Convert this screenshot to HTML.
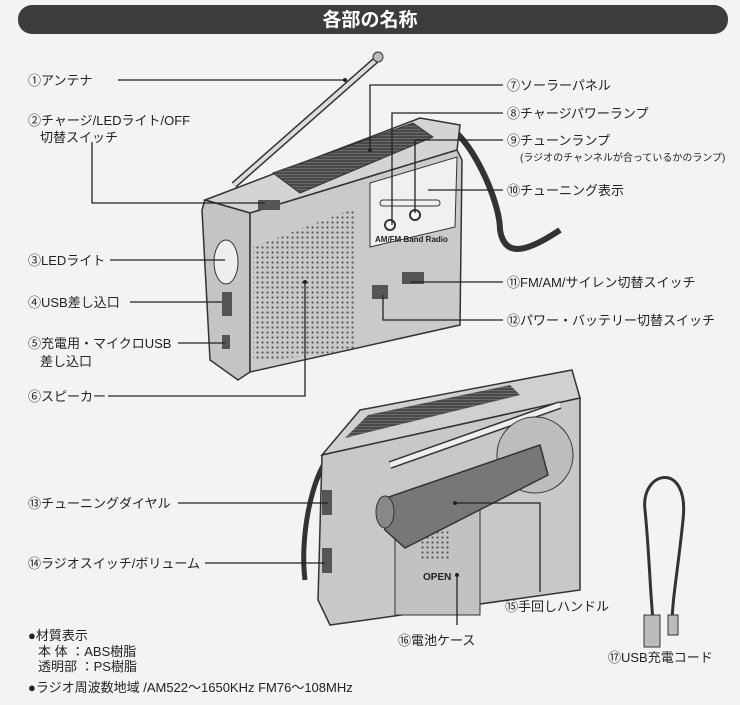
<!DOCTYPE html>
<html><head><meta charset="utf-8"><style>
html,body{margin:0;padding:0;background:#f3f3f1;}
svg{display:block}
text{font-family:"Liberation Sans","Noto Sans CJK JP",sans-serif;fill:#222;font-size:13px}
</style></head><body>
<svg width="740" height="705" viewBox="0 0 740 705" xmlns="http://www.w3.org/2000/svg">
<defs>
<pattern id="dots" width="5" height="5" patternUnits="userSpaceOnUse"><circle cx="2.5" cy="2.5" r="1.1" fill="#555"/></pattern>
<pattern id="sol" width="6" height="3" patternUnits="userSpaceOnUse"><rect width="6" height="3" fill="#4a4a4a"/><rect width="6" height="1" fill="#6a6a6a"/></pattern>
</defs>
<rect x="18" y="5" width="710" height="29" rx="14" fill="#3c3c3c"/>
<text x="370" y="26" text-anchor="middle" style="fill:#fff;font-size:19px;font-weight:bold">各部の名称</text>

<!-- top radio -->
<line x1="234" y1="185" x2="376" y2="60" stroke="#333" stroke-width="7"/>
<line x1="234" y1="185" x2="376" y2="60" stroke="#ddd" stroke-width="4"/>
<circle cx="378" cy="57" r="5" fill="#bbb" stroke="#333"/>
<path d="M445,125 C470,135 500,200 500,230 C505,260 530,250 560,230" fill="none" stroke="#333" stroke-width="6"/>
<polygon points="205,200 420,118 460,125 457,150 250,213" fill="#d4d4d4" stroke="#333" stroke-width="1.5"/>
<polygon points="273,173 413,123 433,137 300,193" fill="url(#sol)" stroke="#333"/>
<polygon points="205,200 250,213 250,372 238,380 210,360 202,210" fill="#c4c4c4" stroke="#333" stroke-width="1.5"/>
<polygon points="250,213 457,150 462,160 460,325 250,372" fill="#cacaca" stroke="#333" stroke-width="1.5"/>
<polygon points="253,247 355,208 355,350 253,362" fill="url(#dots)"/>
<polygon points="370,183 457,157 455,227 370,247" fill="#f0f0f0" stroke="#333"/>
<text x="375" y="242" style="font-size:8px;font-weight:bold">AM/FM Band Radio</text>
<rect x="380" y="200" width="60" height="6" rx="3" fill="none" stroke="#333"/>
<circle cx="390" cy="225" r="5" fill="#fff" stroke="#333" stroke-width="2"/>
<circle cx="415" cy="215" r="5" fill="#fff" stroke="#333" stroke-width="2"/>
<rect x="372" y="285" width="16" height="14" fill="#555"/>
<rect x="402" y="272" width="22" height="12" fill="#555"/>
<rect x="258" y="200" width="22" height="10" fill="#555"/>
<ellipse cx="226" cy="262" rx="12" ry="22" fill="#eee" stroke="#333"/>
<rect x="222" y="292" width="10" height="24" fill="#555"/>
<rect x="222" y="335" width="8" height="14" fill="#555"/>

<!-- bottom radio -->
<path d="M330,455 C310,480 300,540 305,580" fill="none" stroke="#333" stroke-width="5"/>
<polygon points="322,455 360,410 572,370 580,398" fill="#d0d0d0" stroke="#333" stroke-width="1.5"/>
<polygon points="345,438 368,415 510,385 520,395" fill="url(#sol)"/>
<polygon points="322,455 580,398 580,590 330,625 318,600" fill="#c8c8c8" stroke="#333" stroke-width="1.5"/>
<line x1="390" y1="465" x2="560" y2="405" stroke="#333" stroke-width="8"/>
<line x1="390" y1="465" x2="560" y2="405" stroke="#eee" stroke-width="5"/>
<circle cx="535" cy="455" r="38" fill="#bdbdbd" stroke="#333"/>
<rect x="395" y="505" width="85" height="110" fill="#c2c2c2" stroke="#333"/>
<rect x="420" y="530" width="30" height="30" fill="url(#dots)"/>
<text x="423" y="580" style="font-size:10px;font-weight:bold">OPEN</text>
<polygon points="380,500 540,445 548,475 405,548 385,530" fill="#777" stroke="#333" stroke-width="1.5"/>
<ellipse cx="385" cy="512" rx="9" ry="16" fill="#888" stroke="#333"/>
<rect x="322" y="490" width="10" height="25" fill="#555"/>
<rect x="322" y="548" width="10" height="25" fill="#555"/>

<!-- cable -->
<path d="M655,640 C650,600 650,560 645,510 C640,470 690,460 683,520 C678,570 672,600 672,625" fill="none" stroke="#333" stroke-width="3"/>
<rect x="644" y="615" width="16" height="32" fill="#bbb" stroke="#333"/>
<rect x="668" y="615" width="10" height="20" fill="#bbb" stroke="#333"/>

<!-- leaders -->
<g stroke="#222" stroke-width="1.3" fill="none">
<polyline points="118,80 345,80"/>
<polyline points="92,142 92,203 265,203"/>
<polyline points="110,260 225,260"/>
<polyline points="130,302 222,302"/>
<polyline points="178,343 225,343"/>
<polyline points="108,396 305,396 305,282"/>
<polyline points="370,150 370,85 503,85"/>
<polyline points="392,225 392,113 503,113"/>
<polyline points="415,213 415,140 503,140"/>
<polyline points="428,190 503,190"/>
<polyline points="410,282 503,282"/>
<polyline points="383,295 383,320 503,320"/>
<polyline points="178,503 328,503"/>
<polyline points="205,563 325,563"/>
<polyline points="455,503 540,503 540,592"/>
<polyline points="457,575 457,625"/>
</g>
<g fill="#222"><circle cx="345" cy="80" r="2"/><circle cx="370" cy="150" r="2"/><circle cx="305" cy="282" r="2"/><circle cx="455" cy="503" r="2"/><circle cx="457" cy="575" r="2"/></g>

<text x="28" y="85">①アンテナ</text>
<text x="28" y="125">②チャージ/LEDライト/OFF</text>
<text x="40" y="142">切替スイッチ</text>
<text x="28" y="265">③LEDライト</text>
<text x="28" y="307">④USB差し込口</text>
<text x="28" y="348">⑤充電用・マイクロUSB</text>
<text x="40" y="366">差し込口</text>
<text x="28" y="401">⑥スピーカー</text>
<text x="507" y="90">⑦ソーラーパネル</text>
<text x="507" y="118">⑧チャージパワーランプ</text>
<text x="507" y="145">⑨チューンランプ</text>
<text x="520" y="161" style="font-size:10px">(ラジオのチャンネルが合っているかのランプ)</text>
<text x="507" y="195">⑩チューニング表示</text>
<text x="507" y="287">⑪FM/AM/サイレン切替スイッチ</text>
<text x="507" y="325">⑫パワー・バッテリー切替スイッチ</text>
<text x="28" y="508">⑬チューニングダイヤル</text>
<text x="28" y="568">⑭ラジオスイッチ/ボリューム</text>
<text x="505" y="611">⑮手回しハンドル</text>
<text x="398" y="645">⑯電池ケース</text>
<text x="608" y="662">⑰USB充電コード</text>
<text x="28" y="640">●材質表示</text>
<text x="38" y="656">本 体 ：ABS樹脂</text>
<text x="38" y="671">透明部 ：PS樹脂</text>
<text x="28" y="692">●ラジオ周波数地域 /AM522〜1650KHz  FM76〜108MHz</text>
</svg>
</body></html>
